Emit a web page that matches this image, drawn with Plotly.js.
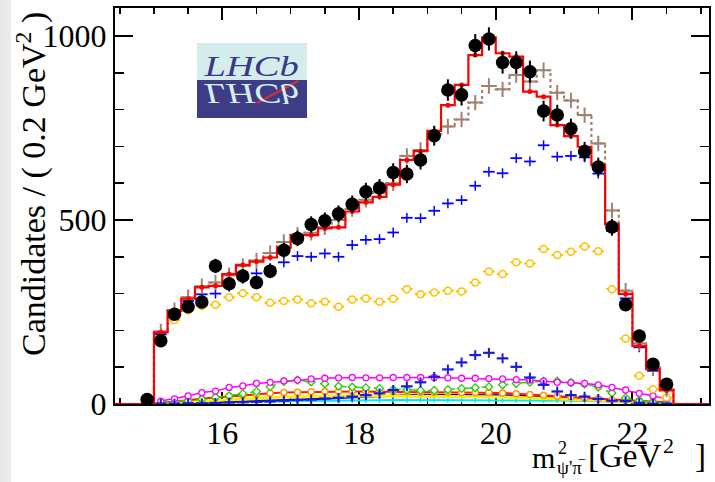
<!DOCTYPE html>
<html>
<head>
<meta charset="utf-8">
<script src="https://cdn.plot.ly/plotly-3.0.1.min.js"></script>
<style>
html,body{margin:0;padding:0;}
body{width:715px;height:482px;background:linear-gradient(to right,#e6e6e6 0,#ececec 11px,#ffffff 11px);}
#chart{width:715px;height:482px;}
</style>
</head>
<body>
<div id="chart"></div>
<script>
// bin centres (GeV^2), bin width 0.2
const centers = [14.9,15.1,15.3,15.5,15.7,15.9,16.1,16.3,16.5,16.7,16.9,17.1,17.3,17.5,17.7,17.9,18.1,18.3,18.5,18.7,18.9,19.1,19.3,19.5,19.7,19.9,20.1,20.3,20.5,20.7,20.9,21.1,21.3,21.5,21.7,21.9,22.1,22.3,22.5];
const binWidth = 0.2;
const dataVals = [12,172,244,264,277,375,327,348,330,361,418,450,488,498,517,543,577,587,629,625,663,729,853,840,974,992,928,928,903,796,785,748,686,644,481,270,185,108,54];
const totalFit = [0,195,253,286,317,321,353,378,387,398,425,459,459,477,480,523,548,563,596,663,687,742,812,867,948,996,953,944,849,835,758,728,699,649,489,299,158,95,37];
const altFit = [0,197,255,290,320,330,350,375,390,410,440,460,465,480,500,530,555,575,600,674,690,733,754,773,819,864,855,894,876,907,846,825,785,708,526,308,165,100,40];
const blueMid = [null,190,248,280,298,300,318,340,355,370,385,402,400,409,400,432,446,448,466,506,505,525,545,554,593,631,627,668,659,703,672,674,670,626,470,287,154,90,38];
const yellowMid = [null,185,228,255,266,270,290,301,290,275,280,284,274,278,264,284,287,278,286,312,298,303,308,306,330,360,353,385,382,421,405,414,428,415,312,178,77,40,18];
const magentaComp = [null,8,14,22,31,35,45,49,56,59,63,65,68,70,71,72,71,71,72,72,72,72,71,70,70,69,68,66,65,62,59,58,56,52,45,38,29,22,14];
const greenComp = [null,3,6,9,13,18,22,28,34,47,61,65,60,55,48,46,44,42,39,38,37,37,39,42,44,47,52,56,59,62,62,58,54,46,30,17,9,4,2];
const orangeComp = [null,3,6,10,14,18,21,24,27,29,31,32,33,34,34,34,34,33,33,33,32,32,32,31,31,31,30,28,26,24,21,19,16,14,11,10,9,7,5];
const yellowLow = [null,2,4,6,9,11,13,15,17,18,19,20,21,21,22,22,22,22,21,21,21,21,20,20,20,20,19,18,17,16,14,13,11,10,8,7,6,5,3];
const blueLow = [null,0,1,2,3,4,5,6,7,8,9,10,12,14,16,18,20,22,23,24,25,25,26,26,26,25,24,23,22,20,18,16,13,10,8,6,4,2,1];
const bluePeak = [null,1,1,2,2,3,4,5,6,7,9,11,12,15,17,20,24,29,38,48,59,74,94,113,133,139,124,101,72,52,34,24,20,14,9,8,3,1,1];
const cyanComp = [null,0,1,1,2,2,3,4,5,6,7,8,8,9,9,10,10,10,11,11,11,11,11,11,11,11,11,11,10,10,10,9,8,7,6,5,4,3,2];

const xRange = [14.43, 23.12];
const yRange = [0, 1076];
const xTicks = [16, 18, 20, 22];
const yTicks = [0, 500, 1000];

const serif = 'Liberation Serif, Times New Roman, serif';

// histogram step outline built from bin edges
function stepOutline(vals){
  const xs=[xRange[0]], ys=[0];
  for(let i=0;i<centers.length;i++){ xs.push(centers[i]-binWidth/2); ys.push(vals[i]); }
  xs.push(centers[centers.length-1]+binWidth/2); ys.push(0);
  xs.push(xRange[1]); ys.push(0);
  return {x:xs,y:ys};
}
const redStep = stepOutline(totalFit);
const brownStep = stepOutline(altFit);

const traces = [
  {x:centers,y:cyanComp,mode:'lines+markers',line:{color:'#00e5ff',width:2},marker:{color:'#00e5ff',size:4,symbol:'line-ns-open',line:{width:1.5,color:'#00e5ff'}}},
  {x:centers,y:blueLow,mode:'lines+markers',line:{color:'#0000ff',width:2},marker:{color:'#0000ff',size:4,symbol:'line-ns-open',line:{width:1.5,color:'#0000ff'}}},
  {x:centers,y:yellowLow,mode:'lines',line:{color:'#ffee00',width:3}},
  {x:centers,y:orangeComp,mode:'lines+markers',line:{color:'#ff1a00',width:2},marker:{color:'#ffffff',size:6,symbol:'circle',line:{width:1.5,color:'#ff9900'}}},
  {x:centers,y:greenComp,mode:'lines+markers',line:{color:'#22dd00',width:1.5,dash:'dash'},marker:{color:'#ffffff',size:6,symbol:'diamond',line:{width:1.3,color:'#22cc00'}}},
  {x:centers,y:magentaComp,mode:'lines+markers',line:{color:'#ff00ff',width:1.5},marker:{color:'#ffffff',size:6,symbol:'circle',line:{width:1.3,color:'#ff00ff'}}},
  {x:centers,y:bluePeak,mode:'markers',marker:{color:'#1a1add',size:7,symbol:'line-ns-open',line:{width:2,color:'#1a1add'}},
   error_x:{type:'constant',value:0.085,thickness:2.2,width:0,color:'#1a1add'}},
  {x:centers,y:yellowMid,mode:'markers',marker:{color:'#ffffff',size:7,symbol:'circle',line:{width:1.5,color:'#ffc000'}},
   error_x:{type:'constant',value:0.085,thickness:2,width:0,color:'#ffc000'}},
  {x:centers,y:blueMid,mode:'markers',marker:{color:'#0000ff',size:7,symbol:'line-ns-open',line:{width:1.5,color:'#0000ff'}},
   error_x:{type:'constant',value:0.085,thickness:1.8,width:0,color:'#0000ff'}},
  {x:brownStep.x,y:brownStep.y,mode:'lines',line:{shape:'hv',color:'#a08272',width:2.2,dash:'dot'}},
  {x:centers,y:altFit,mode:'markers',marker:{color:'#a08272',size:11,symbol:'cross-thin-open',line:{width:2,color:'#a08272'}}},
  {x:redStep.x,y:redStep.y,mode:'lines',line:{shape:'hv',color:'#ff0000',width:2.2}},
  {x:centers.slice(1),y:totalFit.slice(1),mode:'markers',marker:{color:'#ff0000',size:5,symbol:'circle'}},
  {x:centers,y:dataVals,mode:'markers',marker:{color:'#000000',size:13.5,symbol:'circle'},
   error_y:{type:'data',array:dataVals.map(v=>Math.sqrt(v)),thickness:2,width:0,color:'#000000'}}
];

const L=115, R=709, T=8, B=404;
function px(xp){return (xp-L)/(R-L);}
function py(yp){return (B-yp)/(B-T);}

const annotations = [
  {xref:'paper',yref:'paper',x:px(31),y:py(10),xanchor:'center',yanchor:'top',textangle:-90,showarrow:false,
   text:'Candidates / ( 0.2 GeV<sup>2</sup> )',font:{family:serif,size:34,color:'#000'}},
  {xref:'paper',yref:'paper',x:px(557),y:py(457),xanchor:'right',yanchor:'middle',showarrow:false,
   text:'m',font:{family:serif,size:30,color:'#000'}},
  {xref:'paper',yref:'paper',x:px(556),y:py(448),xanchor:'left',yanchor:'middle',showarrow:false,
   text:'2',font:{family:serif,size:18,color:'#000'}},
  {xref:'paper',yref:'paper',x:px(555),y:py(467),xanchor:'left',yanchor:'middle',showarrow:false,
   text:"ψ'π",font:{family:serif,size:19,color:'#000'}},
  {xref:'paper',yref:'paper',x:px(576),y:py(459),xanchor:'left',yanchor:'middle',showarrow:false,
   text:'−',font:{family:serif,size:14,color:'#000'}},
  {xref:'paper',yref:'paper',x:px(586),y:py(456),xanchor:'left',yanchor:'middle',showarrow:false,
   text:'[GeV',font:{family:serif,size:33,color:'#000'}},
  {xref:'paper',yref:'paper',x:px(661),y:py(446),xanchor:'left',yanchor:'middle',showarrow:false,
   text:'2',font:{family:serif,size:22,color:'#000'}},
  {xref:'paper',yref:'paper',x:px(708),y:py(456),xanchor:'right',yanchor:'middle',showarrow:false,
   text:']',font:{family:serif,size:33,color:'#000'}},
  {xref:'paper',yref:'paper',x:px(251),y:py(84),xanchor:'center',yanchor:'bottom',showarrow:false,
   text:'LHCb',font:{family:serif,size:29,style:'italic',color:'#38388a'}},
  {xref:'paper',yref:'paper',x:px(251),y:py(84),xanchor:'center',yanchor:'bottom',showarrow:false,
   text:'LHCb',font:{family:serif,size:29,style:'italic',color:'#d8eeee'}}
];
const LOGO_INDEX = 8, MIRROR_INDEX = 9;
const LOGO_CX = 251, LOGO_LINE = 80, LOGO_STRETCH = 1.33;

const shapes = [
  {type:'rect',xref:'paper',yref:'paper',x0:px(197),x1:px(307),y0:py(80),y1:py(43),fillcolor:'#d5ecec',line:{width:0},layer:'below'},
  {type:'rect',xref:'paper',yref:'paper',x0:px(197),x1:px(307),y0:py(118),y1:py(80),fillcolor:'#3d3d87',line:{width:0},layer:'below'},
  {type:'line',xref:'paper',yref:'paper',x0:px(257),y0:py(103),x1:px(298),y1:py(81),line:{color:'#e0283c',width:2},layer:'above'}
];

const axisCommon = {
  showgrid:false, zeroline:false, showline:true, linecolor:'#000', linewidth:2,
  mirror:'allticks', ticks:'inside', tickcolor:'#000', tickwidth:2,
  tickfont:{family:serif,size:32,color:'#000'}, layer:'below traces'
};

const layout = {
  width:715, height:482,
  margin:{l:L,r:715-R,t:T,b:482-B,pad:0},
  paper_bgcolor:'rgba(0,0,0,0)', plot_bgcolor:'#ffffff',
  showlegend:false,
  xaxis:Object.assign({}, axisCommon, {range:xRange, tickvals:xTicks, ticklen:12,
    minor:{dtick:0.5,tick0:14,ticklen:6,tickwidth:1.5,ticks:'inside',tickcolor:'#000'}}),
  yaxis:Object.assign({}, axisCommon, {range:yRange, tickvals:yTicks, ticklen:18,
    minor:{dtick:100,tick0:0,ticklen:9,tickwidth:1.5,ticks:'inside',tickcolor:'#000'}}),
  annotations:annotations,
  shapes:shapes
};

function logoTransform(idx, mirror){
  const g = document.querySelector('g.annotation[data-index="'+idx+'"]');
  if(!g) return;
  const ctm = g.parentNode.getCTM ? g.parentNode.getCTM() : null;
  const ex = ctm ? ctm.e : 0, ey = ctm ? ctm.f : 0;
  const cx = LOGO_CX - ex, ly = LOGO_LINE - ey;
  const existing = g.getAttribute('transform') || '';
  let t = 'translate('+cx+',0) scale('+LOGO_STRETCH+',1) translate('+(-cx)+',0) ';
  if(mirror) t = 'translate(0,'+(2*ly)+') scale(1,-1) ' + t;
  g.setAttribute('transform', t + existing);
}

Plotly.newPlot('chart', traces, layout, {staticPlot:true, displayModeBar:false}).then(function(){
  logoTransform(LOGO_INDEX, false);
  logoTransform(MIRROR_INDEX, true);
});
</script>
</body>
</html>
